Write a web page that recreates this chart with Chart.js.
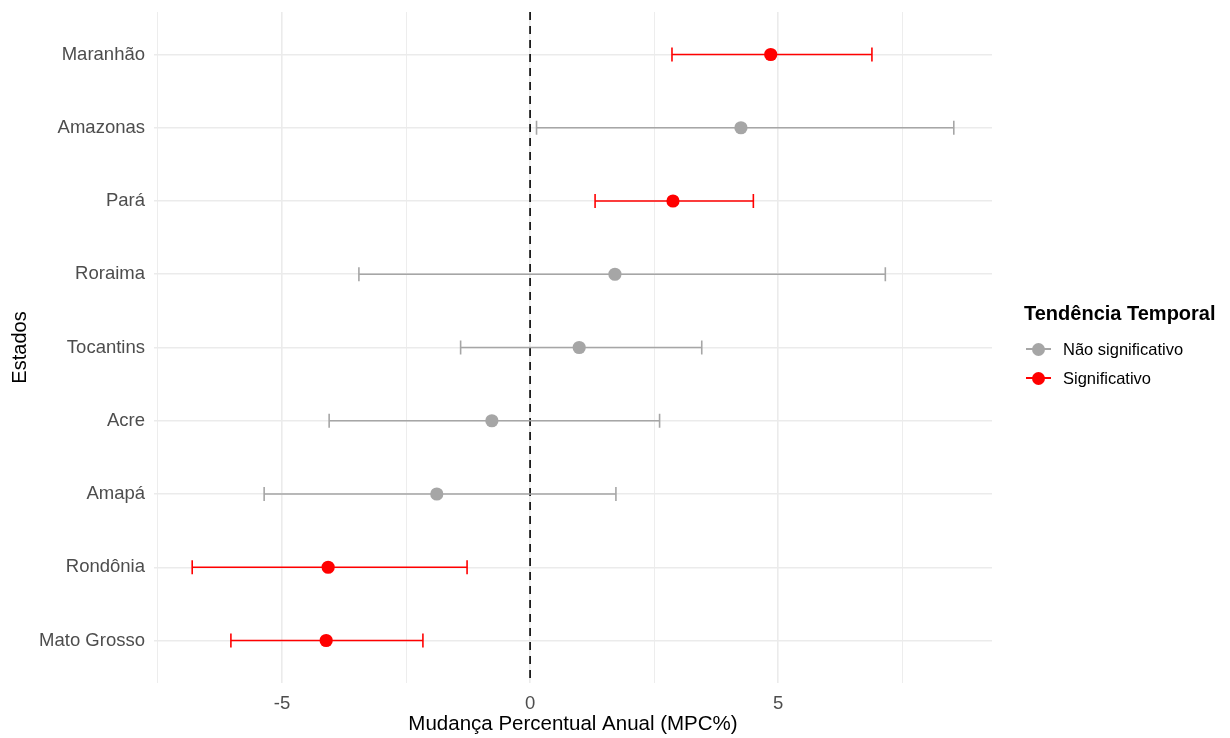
<!DOCTYPE html>
<html>
<head>
<meta charset="utf-8">
<script src="https://cdn.jsdelivr.net/npm/chart.js@4.4.1/dist/chart.umd.min.js"></script>
<style>
  html, body { margin: 0; padding: 0; background: #ffffff; }
  #wrap { position: relative; width: 1230px; height: 738px; overflow: hidden; }
  #c { position: absolute; left: 0; top: 0; }
  .lg { position: absolute; font-family: "Liberation Sans", Arial, sans-serif; color: #000; white-space: nowrap; }
  .lg-title { font-weight: bold; font-size: 20px; line-height: 24px; }
  .lg-item { font-size: 16.5px; line-height: 24px; }
  .sym { position: absolute; width: 25px; height: 24px; }
  .sym .ln { position: absolute; left: 0; width: 25px; top: 11.25px; height: 1.5px; }
  .sym .dt { position: absolute; left: 6px; top: 5.5px; width: 13px; height: 13px; border-radius: 50%; }
</style>
</head>
<body>
<div id="wrap">
  <canvas id="c" width="1230" height="738"></canvas>
  <div id="legend"></div>
</div>
<script>
// ---- data ----
const states = ["Maranhão", "Amazonas", "Pará", "Roraima", "Tocantins", "Acre", "Amapá", "Rondônia", "Mato Grosso"];
const mpc = [4.85, 4.25, 2.88, 1.71, 0.99, -0.77, -1.88, -4.07, -4.11];
const ciLower = [2.86, 0.13, 1.31, -3.45, -1.40, -4.05, -5.36, -6.81, -6.03];
const ciUpper = [6.89, 8.54, 4.50, 7.16, 3.46, 2.61, 1.73, -1.27, -2.16];
const significant = [true, false, true, false, false, false, false, true, true];
const groupLabels = ["Não significativo", "Significativo"];
const groupColors = ["#a6a6a6", "#ff0000"];
const xGridTicks = [-7.5, -5, -2.5, 0, 2.5, 5, 7.5];
const xLabelTicks = [-5, 0, 5];
const refLine = [0];
const xLimits = [-7.58, 9.31];
const yLimits = [-0.58, 8.58];

const colorOf = i => groupColors[significant[i] ? 1 : 0];

const ciDatasets = states.map((s, i) => ({
  type: 'line',
  label: 'ic-' + s,
  data: [{ x: ciLower[i], y: i }, { x: ciUpper[i], y: i }],
  borderColor: colorOf(i),
  borderWidth: 1.6,
  pointStyle: 'line',
  pointRotation: 90,
  pointRadius: 7,
  pointHoverRadius: 7,
  pointBorderWidth: 1.6,
  pointBorderColor: colorOf(i),
  pointBackgroundColor: colorOf(i),
  order: 1
}));

const pointDataset = {
  type: 'scatter',
  label: 'mpc',
  data: mpc.map((v, i) => ({ x: v, y: i })),
  backgroundColor: states.map((s, i) => colorOf(i)),
  borderColor: states.map((s, i) => colorOf(i)),
  borderWidth: 0,
  pointRadius: 6.6,
  pointHoverRadius: 6.6,
  order: 0
};

const refDatasets = refLine.map(v => ({
  type: 'line',
  label: 'ref',
  data: [{ x: v, y: yLimits[0] }, { x: v, y: yLimits[1] }],
  borderColor: '#000000',
  borderWidth: 1.6,
  borderDash: [8, 6],
  pointRadius: 0,
  pointHoverRadius: 0,
  order: 2
}));

const FONT = "'Liberation Sans', Arial, sans-serif";

new Chart(document.getElementById('c'), {
  type: 'scatter',
  data: { datasets: [pointDataset, ...ciDatasets, ...refDatasets] },
  options: {
    responsive: false,
    animation: false,
    events: [],
    layout: { padding: { left: 0, top: 12, right: 238, bottom: 0 } },
    plugins: { legend: { display: false }, tooltip: { enabled: false } },
    scales: {
      x: {
        type: 'linear',
        min: xLimits[0],
        max: xLimits[1],
        afterBuildTicks: s => { s.ticks = xGridTicks.map(v => ({ value: v })); },
        afterFit: s => { s.height = 55; s.paddingLeft = 0; s.paddingRight = 0; },
        ticks: {
          autoSkip: false,
          maxRotation: 0,
          padding: 10,
          color: '#4d4d4d',
          font: { family: FONT, size: 18.5 },
          callback: v => xLabelTicks.includes(v) ? String(v) : ''
        },
        grid: {
          color: '#ebebeb',
          lineWidth: ctx => (ctx.tick && xLabelTicks.includes(ctx.tick.value)) ? 1.6 : 0.9,
          drawTicks: false
        },
        border: { display: false },
        title: {
          display: true,
          text: 'Mudança Percentual Anual (MPC%)',
          color: '#000000',
          font: { family: FONT, size: 20.5 },
          padding: { top: 0, bottom: 1 }
        }
      },
      y: {
        type: 'linear',
        reverse: true,
        min: yLimits[0],
        max: yLimits[1],
        afterBuildTicks: s => { s.ticks = states.map((n, i) => ({ value: i })); },
        afterFit: s => { s.width = 154; s.paddingTop = 0; s.paddingBottom = 0; },
        ticks: {
          autoSkip: false,
          padding: 9,
          color: '#4d4d4d',
          font: { family: FONT, size: 18.5 },
          callback: v => states[v]
        },
        grid: { color: '#ebebeb', lineWidth: 1.5, drawTicks: false },
        border: { display: false },
        title: {
          display: true,
          text: 'Estados',
          color: '#000000',
          font: { family: FONT, size: 20 },
          padding: { top: 8.5, bottom: 0 }
        }
      }
    }
  }
});

// ---- legend (HTML) ----
const lg = document.getElementById('legend');
const t = document.createElement('div');
t.className = 'lg lg-title';
t.style.left = '1024px';
t.style.top = '301px';
t.textContent = 'Tendência Temporal';
lg.appendChild(t);
const itemCenters = [349, 378];
groupLabels.forEach((lab, k) => {
  const sym = document.createElement('div');
  sym.className = 'sym';
  sym.style.left = '1025.5px';
  sym.style.top = (itemCenters[k] - 12) + 'px';
  sym.innerHTML = '<div class="ln" style="background:' + groupColors[k] + '"></div><div class="dt" style="background:' + groupColors[k] + '"></div>';
  lg.appendChild(sym);
  const tx = document.createElement('div');
  tx.className = 'lg lg-item';
  tx.style.left = '1063px';
  tx.style.top = (itemCenters[k] - 12) + 'px';
  tx.textContent = lab;
  lg.appendChild(tx);
});
</script>
</body>
</html>
